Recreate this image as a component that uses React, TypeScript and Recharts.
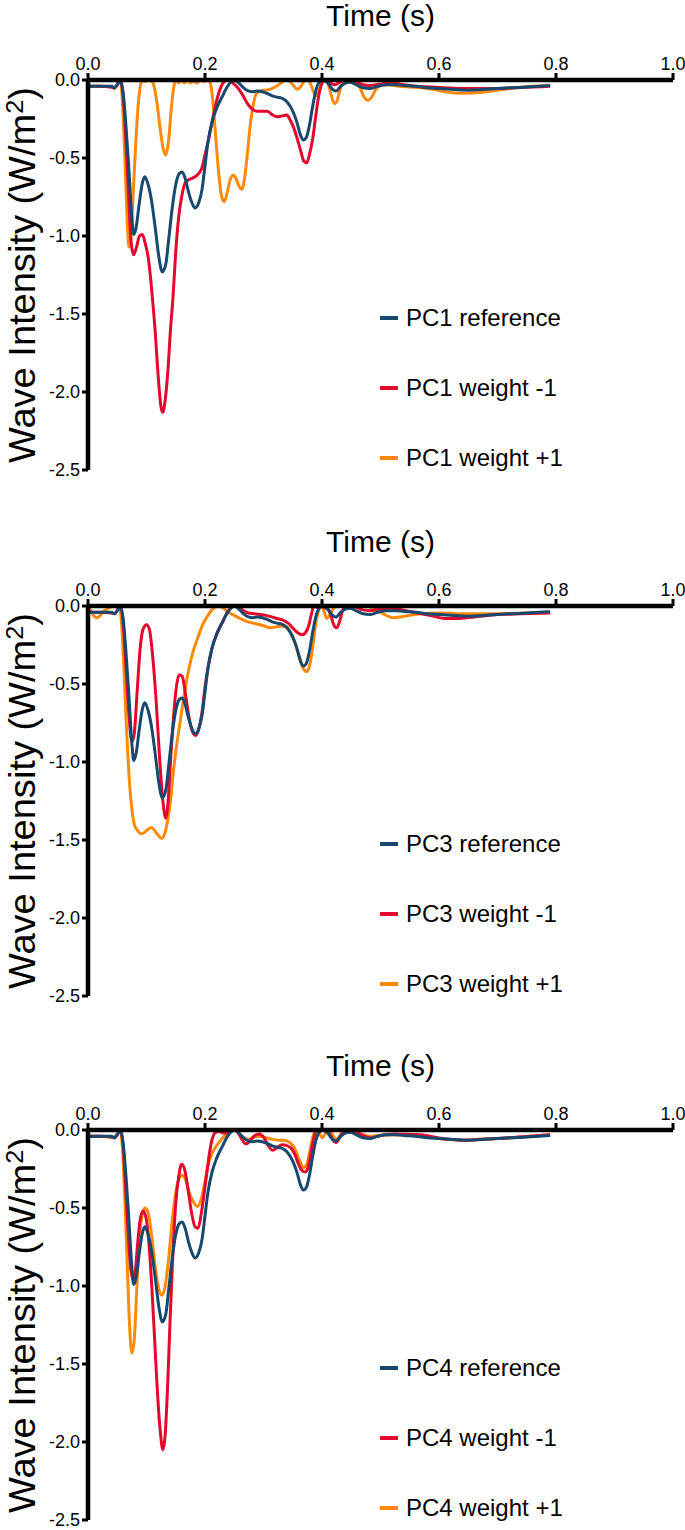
import React from 'react';
import { LineChart, Line, XAxis, YAxis, Legend } from 'recharts';

type Pt = [number, number];

const X_TICKS = [0, 0.2, 0.4, 0.6, 0.8, 1.0];
const Y_TICKS = [0, -0.5, -1.0, -1.5, -2.0, -2.5];

const COLOR_REF = '#17496f';
const COLOR_NEG = '#e3082e';
const COLOR_POS = '#ff8a0a';

const REF: Pt[] = [[0,-0.04],[0.02,-0.04],[0.04,-0.04],[0.045,-0.05],[0.05,-0.03],[0.055,0],[0.06,-0.08],[0.065,-0.3],[0.07,-0.58],[0.075,-0.88],[0.078,-0.99],[0.082,-0.95],[0.088,-0.78],[0.093,-0.66],[0.097,-0.62],[0.102,-0.66],[0.108,-0.76],[0.115,-0.95],[0.121,-1.13],[0.127,-1.23],[0.133,-1.18],[0.138,-1.02],[0.144,-0.82],[0.15,-0.67],[0.156,-0.6],[0.161,-0.59],[0.166,-0.63],[0.172,-0.72],[0.178,-0.79],[0.183,-0.82],[0.189,-0.79],[0.195,-0.7],[0.2,-0.55],[0.205,-0.4],[0.212,-0.27],[0.22,-0.18],[0.229,-0.11],[0.237,-0.05],[0.245,-0.01],[0.25,0],[0.258,-0.02],[0.266,-0.05],[0.274,-0.07],[0.282,-0.075],[0.29,-0.07],[0.298,-0.075],[0.306,-0.085],[0.314,-0.1],[0.323,-0.11],[0.33,-0.115],[0.34,-0.14],[0.35,-0.2],[0.357,-0.27],[0.363,-0.35],[0.368,-0.385],[0.373,-0.37],[0.378,-0.3],[0.384,-0.17],[0.39,-0.06],[0.396,-0.01],[0.402,0],[0.41,-0.02],[0.418,-0.06],[0.424,-0.07],[0.432,-0.04],[0.44,-0.02],[0.448,-0.015],[0.458,-0.03],[0.47,-0.05],[0.482,-0.055],[0.495,-0.04],[0.51,-0.03],[0.525,-0.03],[0.54,-0.035],[0.56,-0.04],[0.58,-0.05],[0.6,-0.055],[0.62,-0.06],[0.65,-0.065],[0.68,-0.06],[0.7,-0.055],[0.72,-0.05],[0.75,-0.045],[0.77,-0.04],[0.79,-0.035]];

const PC1_NEG: Pt[] = [[0,-0.04],[0.02,-0.04],[0.04,-0.045],[0.045,-0.05],[0.05,-0.03],[0.055,0],[0.06,-0.1],[0.065,-0.4],[0.07,-0.8],[0.074,-1.05],[0.078,-1.12],[0.083,-1.07],[0.088,-1.0],[0.093,-0.99],[0.098,-1.05],[0.103,-1.14],[0.109,-1.35],[0.115,-1.62],[0.12,-1.9],[0.125,-2.1],[0.128,-2.13],[0.132,-2.05],[0.137,-1.84],[0.141,-1.6],[0.145,-1.41],[0.15,-1.1],[0.155,-0.88],[0.16,-0.75],[0.166,-0.66],[0.172,-0.64],[0.178,-0.63],[0.183,-0.62],[0.189,-0.6],[0.195,-0.56],[0.2,-0.48],[0.205,-0.4],[0.211,-0.29],[0.217,-0.18],[0.223,-0.09],[0.229,-0.03],[0.235,-0.005],[0.24,0],[0.248,-0.02],[0.256,-0.05],[0.265,-0.1],[0.274,-0.16],[0.282,-0.19],[0.29,-0.2],[0.298,-0.2],[0.306,-0.2],[0.314,-0.22],[0.323,-0.235],[0.332,-0.23],[0.34,-0.225],[0.346,-0.26],[0.352,-0.31],[0.358,-0.38],[0.364,-0.46],[0.369,-0.52],[0.374,-0.53],[0.379,-0.47],[0.384,-0.38],[0.389,-0.24],[0.394,-0.11],[0.4,-0.02],[0.406,0],[0.414,-0.02],[0.422,-0.03],[0.432,-0.01],[0.44,0],[0.45,-0.005],[0.46,-0.015],[0.47,-0.03],[0.482,-0.035],[0.5,-0.025],[0.52,-0.02],[0.54,-0.03],[0.56,-0.04],[0.585,-0.045],[0.61,-0.05],[0.64,-0.055],[0.67,-0.055],[0.7,-0.055],[0.73,-0.05],[0.76,-0.045],[0.79,-0.04]];

const PC1_POS: Pt[] = [[0,-0.04],[0.02,-0.04],[0.04,-0.045],[0.045,-0.055],[0.05,-0.03],[0.055,0],[0.059,-0.15],[0.063,-0.5],[0.067,-0.9],[0.07,-1.07],[0.073,-1.02],[0.077,-0.75],[0.081,-0.45],[0.085,-0.2],[0.089,-0.05],[0.093,0],[0.098,-0.01],[0.103,0],[0.108,-0.005],[0.113,-0.04],[0.118,-0.15],[0.123,-0.3],[0.128,-0.43],[0.133,-0.48],[0.138,-0.38],[0.142,-0.2],[0.146,-0.06],[0.15,0],[0.155,-0.02],[0.16,0],[0.165,-0.02],[0.17,0],[0.175,-0.02],[0.18,-0.005],[0.186,-0.02],[0.192,0],[0.198,-0.01],[0.204,0],[0.209,-0.02],[0.213,-0.12],[0.218,-0.35],[0.223,-0.58],[0.228,-0.74],[0.233,-0.78],[0.238,-0.72],[0.243,-0.64],[0.248,-0.61],[0.253,-0.63],[0.258,-0.68],[0.263,-0.7],[0.268,-0.62],[0.273,-0.45],[0.277,-0.3],[0.282,-0.17],[0.288,-0.085],[0.295,-0.07],[0.303,-0.065],[0.311,-0.06],[0.32,-0.045],[0.33,-0.02],[0.338,0],[0.345,-0.01],[0.352,-0.04],[0.358,-0.06],[0.364,-0.04],[0.37,-0.005],[0.376,0],[0.381,-0.03],[0.386,-0.08],[0.391,-0.1],[0.396,-0.06],[0.401,-0.01],[0.406,0],[0.411,-0.03],[0.416,-0.1],[0.421,-0.15],[0.426,-0.13],[0.431,-0.06],[0.436,-0.01],[0.442,0],[0.45,0],[0.458,-0.01],[0.465,-0.05],[0.472,-0.11],[0.478,-0.13],[0.485,-0.11],[0.492,-0.06],[0.5,-0.035],[0.515,-0.03],[0.53,-0.04],[0.55,-0.045],[0.57,-0.05],[0.59,-0.06],[0.61,-0.075],[0.64,-0.085],[0.67,-0.08],[0.7,-0.065],[0.73,-0.05],[0.76,-0.04],[0.79,-0.035]];

const PC3_NEG: Pt[] = [[0,-0.04],[0.02,-0.04],[0.04,-0.045],[0.045,-0.05],[0.05,-0.03],[0.055,0],[0.06,-0.1],[0.065,-0.4],[0.07,-0.7],[0.075,-0.87],[0.079,-0.82],[0.084,-0.55],[0.089,-0.28],[0.094,-0.15],[0.1,-0.12],[0.105,-0.15],[0.11,-0.3],[0.116,-0.58],[0.122,-0.95],[0.128,-1.25],[0.133,-1.36],[0.137,-1.25],[0.141,-1.0],[0.146,-0.72],[0.151,-0.52],[0.156,-0.44],[0.161,-0.45],[0.166,-0.55],[0.172,-0.7],[0.178,-0.8],[0.184,-0.83],[0.19,-0.78],[0.196,-0.65],[0.2,-0.52],[0.205,-0.4],[0.212,-0.27],[0.22,-0.18],[0.229,-0.11],[0.237,-0.05],[0.245,-0.01],[0.25,0],[0.258,-0.01],[0.266,-0.03],[0.274,-0.045],[0.284,-0.05],[0.294,-0.055],[0.304,-0.06],[0.314,-0.07],[0.323,-0.08],[0.333,-0.09],[0.342,-0.11],[0.35,-0.14],[0.358,-0.17],[0.366,-0.185],[0.372,-0.17],[0.377,-0.13],[0.382,-0.05],[0.386,0],[0.392,-0.01],[0.398,0],[0.404,-0.01],[0.41,-0.02],[0.415,-0.06],[0.42,-0.12],[0.425,-0.14],[0.43,-0.1],[0.435,-0.03],[0.44,0],[0.45,0],[0.46,-0.01],[0.47,-0.025],[0.482,-0.03],[0.5,-0.02],[0.515,-0.015],[0.53,-0.02],[0.55,-0.035],[0.57,-0.05],[0.59,-0.065],[0.61,-0.08],[0.63,-0.08],[0.66,-0.07],[0.7,-0.055],[0.74,-0.05],[0.79,-0.045]];

const PC3_POS: Pt[] = [[0,-0.01],[0.005,-0.03],[0.01,-0.065],[0.015,-0.075],[0.02,-0.065],[0.025,-0.04],[0.03,-0.025],[0.035,-0.015],[0.04,-0.005],[0.045,0],[0.05,-0.01],[0.055,-0.03],[0.058,-0.15],[0.062,-0.45],[0.066,-0.8],[0.07,-1.08],[0.075,-1.3],[0.08,-1.41],[0.085,-1.44],[0.091,-1.46],[0.097,-1.45],[0.103,-1.43],[0.109,-1.42],[0.114,-1.44],[0.12,-1.47],[0.126,-1.49],[0.131,-1.46],[0.136,-1.38],[0.141,-1.25],[0.146,-1.06],[0.152,-0.88],[0.158,-0.73],[0.164,-0.58],[0.171,-0.43],[0.179,-0.3],[0.188,-0.2],[0.196,-0.12],[0.205,-0.06],[0.213,-0.02],[0.222,0],[0.23,-0.01],[0.24,-0.04],[0.25,-0.06],[0.26,-0.08],[0.272,-0.1],[0.283,-0.11],[0.294,-0.12],[0.303,-0.13],[0.311,-0.14],[0.32,-0.135],[0.33,-0.13],[0.34,-0.135],[0.348,-0.18],[0.355,-0.25],[0.362,-0.34],[0.368,-0.4],[0.374,-0.42],[0.379,-0.38],[0.384,-0.27],[0.389,-0.12],[0.394,-0.03],[0.399,0],[0.404,-0.04],[0.408,-0.08],[0.413,-0.06],[0.419,-0.02],[0.425,0],[0.44,0],[0.46,0],[0.48,-0.005],[0.495,-0.03],[0.51,-0.06],[0.522,-0.075],[0.535,-0.07],[0.55,-0.06],[0.57,-0.05],[0.6,-0.045],[0.65,-0.05],[0.7,-0.05],[0.75,-0.045],[0.79,-0.04]];

const PC4_NEG: Pt[] = [[0,-0.04],[0.02,-0.04],[0.04,-0.045],[0.045,-0.05],[0.05,-0.03],[0.055,0],[0.06,-0.1],[0.064,-0.35],[0.068,-0.62],[0.072,-0.85],[0.077,-0.96],[0.081,-0.9],[0.085,-0.72],[0.089,-0.58],[0.094,-0.52],[0.099,-0.56],[0.104,-0.72],[0.109,-1.0],[0.114,-1.35],[0.119,-1.7],[0.124,-1.95],[0.128,-2.05],[0.132,-1.95],[0.136,-1.65],[0.14,-1.25],[0.145,-0.8],[0.15,-0.47],[0.155,-0.3],[0.16,-0.22],[0.165,-0.25],[0.171,-0.38],[0.177,-0.53],[0.183,-0.62],[0.188,-0.63],[0.193,-0.55],[0.198,-0.42],[0.203,-0.28],[0.208,-0.14],[0.213,-0.05],[0.218,-0.015],[0.225,-0.01],[0.232,-0.02],[0.24,-0.02],[0.246,-0.005],[0.251,0],[0.257,-0.02],[0.263,-0.06],[0.27,-0.09],[0.277,-0.07],[0.285,-0.035],[0.293,-0.025],[0.3,-0.045],[0.308,-0.1],[0.316,-0.13],[0.324,-0.11],[0.332,-0.095],[0.34,-0.1],[0.348,-0.12],[0.354,-0.16],[0.36,-0.22],[0.366,-0.26],[0.371,-0.27],[0.376,-0.24],[0.381,-0.15],[0.386,-0.05],[0.391,0],[0.398,-0.005],[0.405,0],[0.412,-0.02],[0.418,-0.06],[0.424,-0.08],[0.43,-0.05],[0.436,-0.01],[0.442,0],[0.452,-0.005],[0.462,-0.02],[0.472,-0.04],[0.482,-0.05],[0.495,-0.04],[0.51,-0.028],[0.525,-0.025],[0.545,-0.028],[0.57,-0.03],[0.59,-0.045],[0.615,-0.06],[0.64,-0.065],[0.67,-0.06],[0.7,-0.055],[0.74,-0.045],[0.79,-0.03]];

const PC4_POS: Pt[] = [[0,-0.04],[0.02,-0.04],[0.04,-0.045],[0.045,-0.05],[0.05,-0.03],[0.055,0],[0.059,-0.12],[0.063,-0.45],[0.067,-0.85],[0.071,-1.25],[0.075,-1.43],[0.079,-1.35],[0.083,-1.05],[0.087,-0.75],[0.092,-0.56],[0.097,-0.5],[0.102,-0.52],[0.108,-0.65],[0.114,-0.85],[0.12,-1.0],[0.126,-1.06],[0.132,-1.0],[0.138,-0.82],[0.144,-0.58],[0.15,-0.4],[0.155,-0.32],[0.161,-0.29],[0.167,-0.32],[0.173,-0.4],[0.18,-0.46],[0.187,-0.49],[0.193,-0.45],[0.199,-0.35],[0.205,-0.23],[0.212,-0.15],[0.22,-0.1],[0.228,-0.06],[0.236,-0.03],[0.244,-0.01],[0.25,0],[0.258,-0.02],[0.266,-0.05],[0.274,-0.06],[0.284,-0.045],[0.294,-0.04],[0.305,-0.05],[0.316,-0.06],[0.328,-0.065],[0.34,-0.07],[0.348,-0.09],[0.355,-0.13],[0.362,-0.2],[0.368,-0.24],[0.374,-0.22],[0.379,-0.14],[0.384,-0.05],[0.389,0],[0.395,-0.02],[0.401,-0.05],[0.406,-0.02],[0.412,0],[0.418,-0.03],[0.424,-0.06],[0.43,-0.04],[0.436,-0.01],[0.442,0],[0.455,-0.005],[0.468,-0.025],[0.482,-0.04],[0.5,-0.035],[0.52,-0.03],[0.55,-0.035],[0.58,-0.04],[0.61,-0.06],[0.64,-0.065],[0.67,-0.06],[0.7,-0.055],[0.74,-0.045],[0.79,-0.03]];

const PANELS = [
  { pc: 'PC1', neg: PC1_NEG, pos: PC1_POS },
  { pc: 'PC3', neg: PC3_NEG, pos: PC3_POS },
  { pc: 'PC4', neg: PC4_NEG, pos: PC4_POS },
];

const FONT = '"Liberation Sans", Arial, Helvetica, sans-serif';
const PANEL_TOPS = [0, 526, 1050];

const toRows = (pts: Pt[]) => pts.map(([t, v]) => ({ t, v }));

const TitleText = () => (
  <text x={380.5} y={26} textAnchor="middle" fontFamily={FONT} fontSize={30} fill="#000">
    Time (s)
  </text>
);

const YTitle = () => (
  <text
    x={35}
    y={275}
    textAnchor="middle"
    fontFamily={FONT}
    fontSize={36}
    fill="#000"
    textLength={376}
    lengthAdjust="spacingAndGlyphs"
    transform="rotate(-90, 35, 275)"
  >
    Wave Intensity (W/m
    <tspan dy={-12} fontSize={24}>2</tspan>
    <tspan dy={12}>)</tspan>
  </text>
);

const ORDER = ['reference', 'weight -1', 'weight +1'];

const LegendBox = (props: any) => {
  const payload = [...(props.payload || [])].sort((a: any, b: any) => {
    const ia = ORDER.findIndex((o) => String(a.value).endsWith(o));
    const ib = ORDER.findIndex((o) => String(b.value).endsWith(o));
    return ia - ib;
  });
  return (
    <div>
      {payload.map((it: any, i: number) => (
        <div key={i} style={{ display: 'flex', alignItems: 'center', height: 70 }}>
          <span style={{ display: 'inline-block', width: 18, height: 3.5, background: it.color, marginRight: 8 }} />
          <span style={{ fontFamily: FONT, fontSize: 24, color: '#000', whiteSpace: 'nowrap' }}>{it.value}</span>
        </div>
      ))}
    </div>
  );
};

function Panel({ top, pc, neg, pos }: { top: number; pc: string; neg: Pt[]; pos: Pt[] }) {
  return (
    <div style={{ position: 'absolute', left: 0, top, width: 685, height: 480 }}>
      <LineChart width={685} height={480} margin={{ top: 0, right: 12, bottom: 10, left: 0 }}>
        <XAxis
          type="number"
          dataKey="t"
          orientation="top"
          domain={[0, 1]}
          ticks={X_TICKS}
          interval={0}
          height={80}
          tickFormatter={(v: number) => v.toFixed(1)}
          axisLine={{ stroke: '#000', strokeWidth: 4.5 }}
          tickLine={{ stroke: '#000', strokeWidth: 3 }}
          tickSize={7}
          tickMargin={3}
          tick={{ fill: '#000', fontSize: 18, fontFamily: FONT }}
          label={<TitleText />}
        />
        <YAxis
          type="number"
          dataKey="v"
          domain={[-2.5, 0]}
          ticks={Y_TICKS}
          interval={0}
          width={88}
          tickFormatter={(v: number) => v.toFixed(1)}
          axisLine={{ stroke: '#000', strokeWidth: 4.5 }}
          tickLine={{ stroke: '#000', strokeWidth: 3 }}
          tickSize={6}
          tickMargin={2}
          tick={{ fill: '#000', fontSize: 18, fontFamily: FONT }}
          label={<YTitle />}
        />
        <Legend
          layout="vertical"
          align="center"
          verticalAlign="middle"
          content={<LegendBox />}
          wrapperStyle={{ position: 'absolute', top: 283, left: 380, width: 300, height: 210 }}
        />
        <Line
          data={toRows(pos)}
          dataKey="v"
          name={`${pc} weight +1`}
          type="monotone"
          stroke={COLOR_POS}
          strokeWidth={3}
          dot={false}
          activeDot={false}
          isAnimationActive={false}
        />
        <Line
          data={toRows(neg)}
          dataKey="v"
          name={`${pc} weight -1`}
          type="monotone"
          stroke={COLOR_NEG}
          strokeWidth={3}
          dot={false}
          activeDot={false}
          isAnimationActive={false}
        />
        <Line
          data={toRows(REF)}
          dataKey="v"
          name={`${pc} reference`}
          type="monotone"
          stroke={COLOR_REF}
          strokeWidth={3}
          dot={false}
          activeDot={false}
          isAnimationActive={false}
        />
      </LineChart>
    </div>
  );
}

export default function App() {
  return (
    <div style={{ position: 'absolute', left: 0, top: 0, width: 685, height: 1530, background: '#fff' }}>
      {PANELS.map((p, i) => (
        <Panel key={p.pc} top={PANEL_TOPS[i]} pc={p.pc} neg={p.neg} pos={p.pos} />
      ))}
    </div>
  );
}
